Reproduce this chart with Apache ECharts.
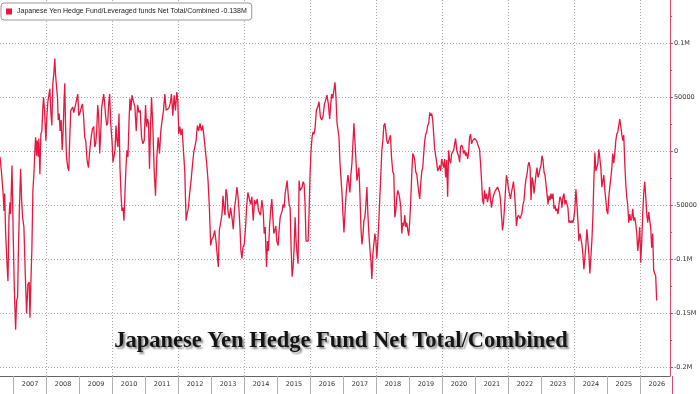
<!DOCTYPE html>
<html><head><meta charset="utf-8">
<script src="https://cdn.jsdelivr.net/npm/echarts@6/dist/echarts.min.js"></script>
<style>html,body{margin:0;padding:0;background:#fff}#c{width:700px;height:394px}</style>
</head><body><div id="c"></div>
<script>
const seriesName = 'Japanese Yen Hedge Fund/Leveraged funds Net Total/Combined';
const lastLabel = '-0.138M';
const lastValue = -138; // thousands
const chartTitle = 'Japanese Yen Hedge Fund Net Total/Combined';
const yearBoundaries = [2007,2008,2009,2010,2011,2012,2013,2014,2015,2016,2017,2018,2019,2020,2021,2022,2023,2024,2025,2026];
const yearLabels = ['2007','2008','2009','2010','2011','2012','2013','2014','2015','2016','2017','2018','2019','2020','2021','2022','2023','2024','2025','2026'];
const gridYears = [2008,2010,2012,2014,2016,2018,2020,2022,2024,2026];
const yTicks = [-200,-150,-100,-50,0,50,100];
const yTickLabels = ['-0.2M','-0.15M','-0.1M','-50000','0','50000','0.1M'];
const yMinorTicks = [-175,-125,-75,-25,25,75,125];

// dates as decimal years, values in thousands of contracts
const dates = [
2006.589,2006.639,2006.690,2006.710,2006.730,2006.760,2006.811,2006.831,2006.861,2006.891,
2006.911,2006.952,2006.972,2006.992,2007.022,2007.062,2007.093,2007.123,2007.143,2007.173,
2007.214,2007.244,2007.274,2007.314,2007.355,2007.395,2007.435,2007.475,2007.496,2007.526,
2007.556,2007.586,2007.617,2007.647,2007.667,2007.697,2007.717,2007.748,2007.768,2007.798,
2007.828,2007.858,2007.889,2007.909,2007.939,2007.979,2008.009,2008.040,2008.080,2008.100,
2008.130,2008.161,2008.191,2008.221,2008.251,2008.271,2008.302,2008.332,2008.352,2008.382,
2008.412,2008.443,2008.473,2008.503,2008.533,2008.553,2008.574,2008.604,2008.644,2008.674,
2008.704,2008.735,2008.765,2008.795,2008.825,2008.856,2008.886,2008.926,2008.946,2008.976,
2009.007,2009.047,2009.087,2009.117,2009.158,2009.188,2009.228,2009.269,2009.309,2009.349,
2009.390,2009.430,2009.460,2009.490,2009.520,2009.551,2009.581,2009.611,2009.641,2009.672,
2009.702,2009.732,2009.762,2009.793,2009.823,2009.853,2009.883,2009.913,2009.944,2009.984,
2010.014,2010.044,2010.075,2010.105,2010.135,2010.165,2010.196,2010.226,2010.256,2010.286,
2010.317,2010.347,2010.377,2010.407,2010.437,2010.468,2010.498,2010.528,2010.558,2010.588,
2010.619,
2010.678,2010.718,2010.759,2010.799,2010.839,2010.880,2010.920,2010.960,2011.001,2011.031,
2011.061,2011.091,2011.121,2011.152,2011.182,2011.222,2011.262,2011.303,2011.343,2011.383,
2011.424,2011.464,2011.504,2011.545,2011.585,2011.625,2011.665,2011.706,2011.746,2011.786,
2011.827,2011.867,2011.907,2011.948,2011.978,2012.008,2012.038,2012.079,2012.109,2012.149,
2012.189,2012.230,2012.260,2012.300,2012.340,2012.381,2012.421,2012.461,2012.502,2012.532,
2012.572,2012.612,2012.653,2012.693,2012.733,2012.774,2012.814,2012.854,2012.895,2012.935,
2012.975,2013.015,2013.056,2013.096,2013.136,2013.177,2013.207,2013.237,2013.277,2013.318,
2013.348,2013.378,2013.408,2013.438,2013.469,2013.499,2013.539,2013.579,2013.620,2013.660,
2013.700,2013.741,2013.771,2013.801,2013.831,2013.862,2013.892,2013.922,2013.952,2013.993,
2014.033,2014.063,2014.103,2014.144,2014.184,2014.224,2014.265,2014.305,2014.345,2014.385,2014.426,
2014.486,2014.527,2014.567,2014.597,2014.627,2014.668,2014.698,2014.728,2014.758,2014.789,
2014.829,2014.859,2014.889,2014.919,2014.950,2014.980,2015.020,2015.050,2015.081,2015.111,
2015.141,2015.171,2015.202,2015.232,2015.262,2015.292,2015.322,2015.353,2015.383,2015.413,
2015.443,2015.474,2015.504,2015.534,2015.564,2015.594,2015.625,2015.655,2015.685,2015.715,
2015.746,2015.776,2015.806,2015.836,2015.866,2015.897,2015.927,2015.957,2015.987,2016.018,
2016.048,2016.078,2016.108,2016.138,2016.179,2016.219,2016.259,2016.300,2016.340,2016.380,
2016.420,2016.461,2016.501,2016.541,2016.582,2016.612,2016.642,2016.672,2016.703,2016.743,
2016.773,2016.803,2016.834,2016.864,2016.894,2016.924,2016.955,2016.985,2017.015,2017.045,
2017.075,2017.106,2017.136,2017.166,2017.196,2017.226,2017.257,2017.287,2017.317,2017.347,
2017.378,2017.408,2017.438,2017.468,2017.498,2017.529,2017.559,2017.589,2017.619,2017.649,
2017.680,2017.710,2017.740,2017.770,2017.801,2017.831,2017.861,2017.891,2017.921,2017.952,
2017.982,2018.012,2018.042,2018.073,2018.103,2018.133,2018.163,2018.194,2018.224,2018.254,
2018.284,2018.314,2018.345,2018.375,
2018.425,2018.456,2018.496,2018.526,2018.556,2018.587,2018.617,2018.647,2018.677,2018.707,
2018.738,2018.768,2018.798,2018.828,2018.859,2018.889,2018.919,2018.949,2018.979,2019.010,
2019.040,2019.070,2019.100,2019.131,2019.161,2019.191,2019.221,2019.251,2019.282,2019.312,
2019.342,2019.372,2019.403,2019.433,2019.463,2019.493,2019.523,2019.554,2019.584,2019.614,
2019.644,2019.675,2019.705,2019.735,2019.765,2019.795,2019.826,2019.856,2019.886,2019.916,
2019.947,2019.977,2020.007,2020.037,2020.067,2020.098,2020.128,2020.158,2020.188,2020.219,
2020.249,2020.279,2020.309,2020.339,2020.370,2020.400,2020.430,2020.460,2020.491,2020.521,
2020.551,2020.581,2020.611,2020.642,2020.672,2020.702,2020.732,2020.763,2020.793,2020.823,
2020.853,2020.883,2020.914,2020.944,2020.974,2021.004,2021.035,2021.065,2021.095,2021.125,
2021.155,2021.186,2021.216,2021.246,2021.276,2021.307,2021.337,2021.367,2021.397,2021.427,
2021.458,2021.488,2021.518,2021.548,2021.579,2021.609,2021.639,2021.669,2021.699,2021.730,
2021.760,2021.790,2021.820,2021.851,2021.881,2021.911,2021.941,2021.971,2022.002,2022.032,
2022.062,2022.092,2022.123,2022.153,2022.183,2022.213,2022.243,2022.274,
2022.303,2022.353,2022.404,2022.444,2022.474,2022.504,2022.535,2022.565,2022.595,2022.625,
2022.656,2022.686,2022.716,2022.746,2022.776,2022.807,2022.837,2022.867,2022.897,2022.928,
2022.958,2022.988,2023.018,2023.048,2023.079,2023.109,2023.139,2023.169,2023.200,2023.230,
2023.260,2023.290,2023.320,2023.351,2023.381,2023.411,2023.441,2023.472,2023.502,2023.532,
2023.562,2023.592,2023.623,2023.653,2023.683,2023.713,2023.744,2023.774,2023.804,2023.834,
2023.864,2023.895,2023.925,2023.955,2023.985,2024.016,2024.046,2024.076,2024.106,2024.136,
2024.167,2024.197,2024.227,2024.257,2024.288,2024.318,2024.348,2024.378,2024.408,2024.439,
2024.469,2024.499,2024.529,2024.560,2024.590,2024.620,2024.650,2024.680,2024.711,2024.741,
2024.771,2024.801,2024.832,2024.862,2024.892,2024.922,2024.952,2024.983,2025.013,2025.043,
2025.073,2025.104,2025.134,2025.164,2025.194,2025.224,2025.255,2025.285,2025.315,2025.345,
2025.376,2025.406,2025.436,2025.466,2025.496,2025.527,2025.557,2025.587,2025.617,2025.648,
2025.678,2025.708,2025.738,2025.768,2025.799,2025.829,2025.859,2025.889,2025.920,2025.950,
2025.980,2026.010,2026.040,2026.071,2026.101,2026.131,2026.161,2026.192,2026.222,2026.252,
2026.282,2026.312,2026.343,2026.373,2026.403,2026.433,2026.464,2026.494
];
const values = [
-5,-21,-42,-55,-39,-76,-110,-120,-61,-47,
-58,-13,-45,-82,-126,-165,-138,-135,-98,-58,
-16,-45,-61,-70,-113,-150,-123,-121,-154,-120,
-90,-36,-21,1,13,-4,10,-5,12,-21,
16,19,41,50,38,10,32,46,46,58,
36,24,63,72,86,72,60,50,29,35,
19,29,1,19,49,63,26,-5,-15,-18,
13,38,38,41,36,40,44,50,53,33,
35,40,44,35,13,10,-8,-15,1,12,
21,23,4,7,19,43,32,-2,16,41,
47,53,44,32,24,26,44,53,26,10,
-10,-11,1,24,10,4,35,-15,-39,-55,
-52,-64,-38,-15,1,-5,26,49,38,52,
53,
41,19,43,36,38,13,7,10,43,23,
30,26,-16,23,50,23,-18,-41,-5,13,
-2,19,29,38,53,38,38,40,44,53,
33,52,38,55,47,16,23,15,21,1,
-18,-64,-58,-52,-38,-27,-13,-1,-2,10,
24,19,26,19,24,13,1,-11,-27,-52,
-87,-81,-79,-73,-83,-84,-107,-73,-66,-58,
-41,-52,-59,-35,-39,-55,-62,-52,-61,-72,
-52,-42,-33,-41,-53,-70,-92,-99,-89,-86,
-70,-52,-38,-39,-49,-42,-64,-45,-49,-44,-55,
-59,-45,-55,-76,-70,-107,-83,-92,-70,-56,
-44,-61,-76,-73,-69,-83,-87,-73,-61,-58,
-55,-49,-52,-39,-38,-27,-39,-49,-52,-89,
-116,-107,-89,-61,-83,-95,-104,-27,-36,-35,
-33,-28,-30,-49,-83,-84,-83,-58,-21,1,
13,18,16,21,38,41,46,32,29,32,
43,44,52,44,30,43,53,49,55,64,
50,27,26,13,-11,-24,-39,-58,-75,-58,
-42,-30,-22,-21,-38,-21,-11,7,26,10,
-8,-27,-22,-15,-39,-70,-86,-78,-64,-61,
-49,-33,-58,-76,-90,-101,-118,-95,-95,-76,
-83,-99,-83,-64,-42,-21,1,10,24,26,
19,10,7,10,
15,-5,-19,-21,-61,-55,-42,-36,-39,-44,
-52,-76,-66,-69,-59,-70,-66,-73,-78,-64,
-45,-21,-2,-4,-8,-19,-21,-21,-38,-44,
-30,-19,-15,-2,10,16,18,24,26,36,
33,35,29,16,2,1,-10,-18,-16,-13,
-18,-7,-11,-15,-7,-24,-8,-42,1,-8,
-11,-2,-1,1,7,12,2,-2,-4,-10,
4,6,4,-2,1,-4,-1,-7,-1,13,
16,7,10,9,12,13,10,9,4,2,
-11,-27,-45,-49,-36,-44,-39,-47,-42,-33,
-45,-52,-45,-41,-38,-36,-35,-33,-33,-38,
-45,-59,-73,-66,-52,-36,-22,-27,-35,-39,
-44,-38,-33,-28,-38,-52,-69,-61,
-59,-62,-58,-49,-45,-33,-25,-21,-13,-10,
-15,-45,-24,-28,-39,-30,-21,-15,-24,-21,
-16,-13,-4,-8,-19,-22,-21,-39,-49,-41,
-45,-39,-44,-39,-53,-50,-55,-53,-58,-49,
-42,-44,-52,-42,-39,-49,-45,-49,-52,-66,
-64,-66,-64,-66,-61,-52,-35,-49,-64,-83,
-76,-81,-86,-95,-109,-98,-87,-72,-83,-95,
-113,-113,-83,-61,-27,-1,-18,-15,-11,2,
1,-15,-33,-27,-22,-36,-45,-55,-58,-42,
-33,-25,-15,-2,-11,-2,10,16,18,24,
30,23,16,10,15,-11,-30,-42,-50,-66,
-58,-64,-62,-53,-64,-61,-67,-75,-92,-83,
-70,-103,-83,-58,-39,-28,-41,-58,-66,-56,
-64,-70,-89,-76,-110,-113,-115,-138
];

const RED = '#e8173f';
const X_MIN = 2006.589, X_MAX = 2026.897;
const Y_MIN = -207.8, Y_MAX = 140.1;
const gridDot = { color: '#a9a9a9', width: 1, type: [1, 2] };

const chart = echarts.init(document.getElementById('c'), null, { renderer: 'canvas' });
chart.setOption({
  animation: false,
  backgroundColor: '#ffffff',
  textStyle: { fontFamily: 'DejaVu Sans' },
  grid: { left: 0, right: 28, top: 0, bottom: 18, containLabel: false },
  legend: {
    show: true, left: 1, top: 3, icon: 'rect', itemWidth: 6, itemHeight: 6, itemGap: 3,
    padding: [5, 5, 5, 5], borderColor: '#999', borderWidth: 1, borderRadius: 3,
    backgroundColor: '#fff',
    textStyle: { fontSize: 7, color: '#222', fontFamily: 'Liberation Sans', padding: [0, 0, 0, 0] },
    formatter: n => n + ' ' + lastLabel,
    data: [seriesName]
  },
  graphic: [{
    type: 'text', x: 341, y: 341, silent: true, z: 10,
    style: {
      text: chartTitle, font: 'bold 22.5px "Liberation Serif"', fill: '#141414',
      align: 'center', verticalAlign: 'middle',
      textShadowColor: 'rgba(0,0,0,0.45)', textShadowBlur: 2, textShadowOffsetX: 2, textShadowOffsetY: 2
    }
  }, {
    type: 'line', silent: true, z: 5,
    shape: { x1: 672.5, y1: 376, x2: 672.5, y2: 394 },
    style: { stroke: '#d9486a', lineWidth: 1 }
  }],
  xAxis: [{
    type: 'value', min: X_MIN, max: X_MAX, position: 'bottom',
    axisLine: { show: true, onZero: false, lineStyle: { color: '#666', width: 1 } },
    axisTick: { show: true, customValues: yearBoundaries, length: 18, lineStyle: { color: '#b0b0b0', width: 1 } },
    axisLabel: {
      show: true, customValues: yearBoundaries.map(y => y + 0.5), hideOverlap: false,
      formatter: v => yearLabels[yearBoundaries.indexOf(Math.floor(v))],
      fontSize: 6.5, color: '#333', margin: 5
    },
    splitLine: { show: false }
  }, {
    type: 'value', min: X_MIN, max: X_MAX, position: 'bottom',
    axisLine: { show: false, onZero: false },
    axisTick: { show: false, customValues: gridYears },
    axisLabel: { show: false, customValues: gridYears },
    splitLine: { show: true, lineStyle: gridDot }
  }],
  yAxis: [{
    type: 'value', position: 'right', min: Y_MIN, max: Y_MAX,
    axisLine: { show: true, onZero: false, lineStyle: { color: '#d9486a', width: 1 } },
    axisTick: { show: true, customValues: yTicks, length: 3, lineStyle: { color: '#d9486a' } },
    axisLabel: {
      show: true, customValues: yTicks, hideOverlap: false,
      formatter: v => yTickLabels[yTicks.indexOf(Math.round(v))],
      fontSize: 6.5, color: '#333', margin: 4
    },
    splitLine: { show: true, lineStyle: gridDot }
  }, {
    type: 'value', position: 'right', min: Y_MIN, max: Y_MAX,
    axisLine: { show: false, onZero: false },
    axisTick: { show: true, customValues: yMinorTicks, length: 2, lineStyle: { color: '#d9486a' } },
    axisLabel: { show: false },
    splitLine: { show: false }
  }],
  series: [{
    name: seriesName, type: 'line', xAxisIndex: 0, yAxisIndex: 0,
    data: dates.map((d, i) => [d, values[i]]),
    showSymbol: false, symbol: 'none', smooth: false,
    lineStyle: { color: RED, width: 1.3 }, itemStyle: { color: RED },
    markLine: {
      silent: true, symbol: ['none', 'none'], animation: false,
      lineStyle: { opacity: 0 },
      data: [{ yAxis: lastValue }],
      label: {
        show: true, position: 'end', formatter: lastLabel, color: '#fff',
        backgroundColor: RED, fontSize: 6.5, padding: [2, 2, 1, 2], distance: 1, fontFamily: 'DejaVu Sans'
      }
    }
  }]
});
</script>
</body></html>
